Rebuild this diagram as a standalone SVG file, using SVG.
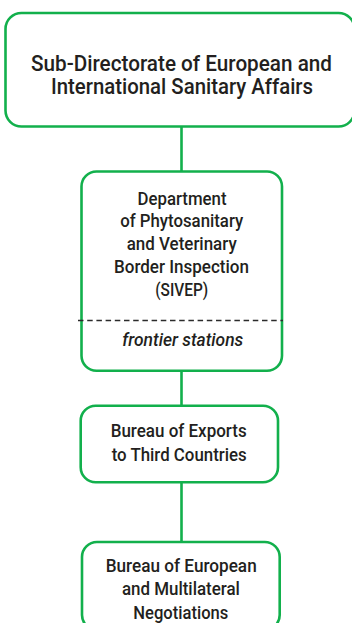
<svg xmlns="http://www.w3.org/2000/svg" width="352" height="623" viewBox="0 0 352 623">
  <style>
    .box { fill: #ffffff; stroke: #12b04c; stroke-width: 2.6; }
    .link { stroke: #12b04c; stroke-width: 2.6; fill: none; }
    .sep { stroke: #2b2b2b; stroke-width: 1.4; stroke-dasharray: 5.5 3.7; fill: none; }
    text { font-family: Roboto, "Liberation Sans", sans-serif; font-weight: 500; fill: #231f20; text-anchor: middle; }
    .big { font-size: 22px; }
    .lbl { font-size: 18.5px; }
    .it { font-size: 18.5px; font-style: italic; }
  </style>
  <rect width="352" height="623" fill="#ffffff"/>

  <!-- connectors -->
  <g id="connectors">
    <line class="link" x1="181.5" y1="126.5" x2="181.5" y2="171.5"/>
    <line class="link" x1="181.5" y1="370.7" x2="181.5" y2="405.7"/>
    <line class="link" x1="181.5" y1="482.3" x2="181.5" y2="542"/>
  </g>

  <!-- top level -->
  <g id="sub-directorate">
    <rect class="box" x="5.5" y="13" width="349" height="113.5" rx="16"/>
    <text class="big" x="181.5" y="71" textLength="301" lengthAdjust="spacingAndGlyphs">Sub-Directorate of European and</text>
    <text class="big" x="182" y="94" textLength="262" lengthAdjust="spacingAndGlyphs">International Sanitary Affairs</text>
  </g>

  <g id="sivep">
    <rect class="box" x="81.5" y="171.5" width="200.5" height="199.2" rx="15"/>
    <text class="lbl" x="182" y="204.5" textLength="89" lengthAdjust="spacingAndGlyphs">Department</text>
    <text class="lbl" x="181.7" y="227.3" textLength="123" lengthAdjust="spacingAndGlyphs">of Phytosanitary</text>
    <text class="lbl" x="181.7" y="250.1" textLength="110" lengthAdjust="spacingAndGlyphs">and Veterinary</text>
    <text class="lbl" x="181.5" y="273" textLength="135" lengthAdjust="spacingAndGlyphs">Border Inspection</text>
    <text class="lbl" x="181.7" y="296" textLength="53" lengthAdjust="spacingAndGlyphs">(SIVEP)</text>
    <line class="sep" x1="78" y1="320.5" x2="283" y2="320.5"/>
    <text class="it" x="182.8" y="345.5" textLength="121" lengthAdjust="spacingAndGlyphs">frontier stations</text>
  </g>

  <g id="bureau-exports">
    <rect class="box" x="80.7" y="405.7" width="197.3" height="76.6" rx="15"/>
    <text class="lbl" x="178.7" y="436.7" textLength="136" lengthAdjust="spacingAndGlyphs">Bureau of Exports</text>
    <text class="lbl" x="179.2" y="460.7" textLength="135" lengthAdjust="spacingAndGlyphs">to Third Countries</text>
  </g>

  <g id="bureau-european">
    <rect class="box" x="82" y="542" width="197.7" height="88" rx="15"/>
    <text class="lbl" x="181.2" y="571.5" textLength="151" lengthAdjust="spacingAndGlyphs">Bureau of European</text>
    <text class="lbl" x="180.9" y="595" textLength="118" lengthAdjust="spacingAndGlyphs">and Multilateral</text>
    <text class="lbl" x="180.8" y="618.5" textLength="95" lengthAdjust="spacingAndGlyphs">Negotiations</text>
  </g>
</svg>
